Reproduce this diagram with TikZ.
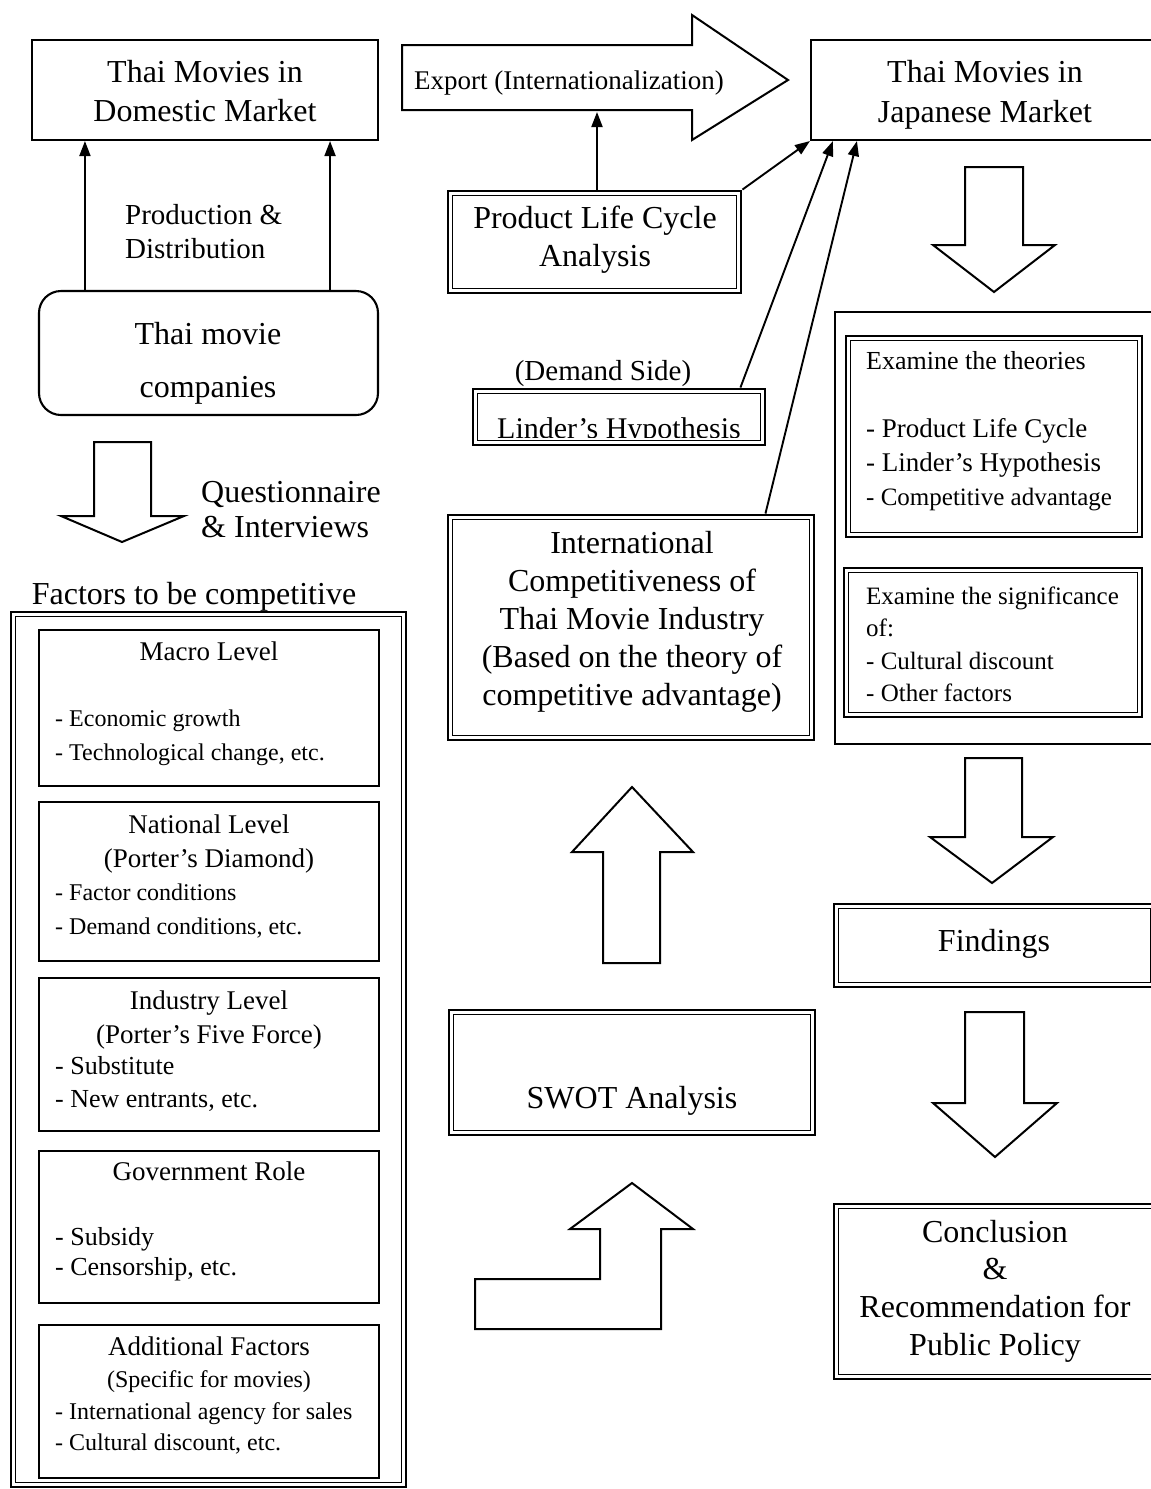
\documentclass[tikz,border=0pt]{standalone}
\usepackage{fontspec}
\setmainfont{Liberation Serif}
\usetikzlibrary{arrows.meta}
\begin{document}
\begin{tikzpicture}[x=1pt,y=-1pt,
  sbox/.style={draw, line width=2.1pt, inner sep=0pt},
  dbox/.style={draw, line width=2.9pt, inner sep=0pt,
    path picture={\draw[line width=1.3pt]
      ([shift={(4.7pt,-4.7pt)}]path picture bounding box.north west) rectangle
      ([shift={(-4.7pt,4.7pt)}]path picture bounding box.south east);}},
  harrow/.style={draw, line width=2pt, line join=miter, fill=white},
  arr/.style={line width=1.9pt, -{Triangle[length=15pt,width=11pt]}},
  txt/.style={inner sep=0pt, align=center, yshift=-3.5pt},
  ltxt/.style={inner sep=0pt, align=left, anchor=west, yshift=-3.5pt},
  fs/.style 2 args={font=\fontsize{#1}{#2}\selectfont},
]
\fill[white] (0,0) rectangle (1151,1489);
\useasboundingbox (0,0) rectangle (1151,1489);

% ---------------- left column ----------------
\node[sbox, minimum width=346pt, minimum height=100pt] (dom) at (205,90) {};
\node[txt, fs={32}{39}] (domtxt) at (205,88) {Thai Movies in\\Domestic Market};
\node[sbox, rounded corners=22pt, minimum width=339pt, minimum height=124pt] (comp) at (208.5,353) {};
\node[txt, fs={32}{53}] (comptxt) at (208,359.5) {Thai movie\\companies};
\path ([xshift=47pt]comp.north west) coordinate (ca) ([xshift=-49pt]comp.north east) coordinate (cb);
\draw[arr] (ca) -- (ca |- dom.south);
\draw[arr] (cb) -- (cb |- dom.south);
\node[ltxt, fs={29}{34}] (prod) at (125,228) {Production \&\\Distribution};

\draw[harrow] (94,442) -- (151,442) -- (151,516) -- (184,516) -- (122,542) -- (61,516) -- (94,516) -- cycle;
\node[ltxt, fs={32}{35}] (quest) at (201,506) {Questionnaire\\\& Interviews};
\node[txt, fs={32}{38}] (factlbl) at (194,593) {Factors to be competitive};

\node[dbox, minimum width=395pt, minimum height=875pt] (fact) at (208.5,1049.5) {};

\node[sbox, minimum width=340pt, minimum height=156pt] (macro) at (209,708) {};
\node[txt, fs={27}{34}] (macroh) at (209,648) {Macro Level};
\node[ltxt, fs={24}{34}] (macrob) at (55,734) {- Economic growth\\- Technological change, etc.};

\node[sbox, minimum width=340pt, minimum height=159pt] (nat) at (209,881.5) {};
\node[txt, fs={27}{34}] (nath) at (209,840) {National Level\\(Porter’s Diamond)};
\node[ltxt, fs={24}{34}] (natb) at (55,908) {- Factor conditions\\- Demand conditions, etc.};

\node[sbox, minimum width=340pt, minimum height=153pt] (ind) at (209,1054.5) {};
\node[txt, fs={27}{34}] (indh) at (209,1016) {Industry Level\\(Porter’s Five Force)};
\node[ltxt, fs={26}{33}] (indb) at (55,1080.5) {- Substitute\\- New entrants, etc.};

\node[sbox, minimum width=340pt, minimum height=152pt] (gov) at (209,1227) {};
\node[txt, fs={27}{34}] (govh) at (209,1168) {Government Role};
\node[ltxt, fs={26}{30}] (govb) at (55,1251) {- Subsidy\\- Censorship, etc.};

\node[sbox, minimum width=340pt, minimum height=153pt] (add) at (209,1401.5) {};
\node[txt, fs={27}{34}] (addh) at (209,1343) {Additional Factors};
\node[txt, fs={24}{34}] (adds) at (209,1378) {(Specific for movies)};
\node[ltxt, fs={24}{31}] (addb) at (55,1425) {- International agency for sales\\- Cultural discount, etc.};

% ---------------- middle column ----------------
\draw[harrow] (402,45) -- (692,45) -- (692,15) -- (788,80) -- (692,140) -- (692,110) -- (402,110) -- cycle;
\node[txt, fs={27}{30}] (export) at (569,80) {Export (Internationalization)};
\coordinate (expb) at (597,112);

\node[dbox, minimum width=293pt, minimum height=102pt] (plc) at (594.5,242) {};
\node[txt, fs={32}{38}] (plctxt) at (595,236) {Product Life Cycle\\Analysis};
\draw[arr] ([xshift=2.5pt]plc.north) -- (expb);

\node[txt, fs={29}{34}] (demand) at (603,370) {(Demand Side)};
\node[dbox, minimum width=292pt, minimum height=56pt] (linder) at (619,417) {};
\begin{scope}
  \clip (472,390) rectangle (766,437);
  \node[inner sep=0pt, anchor=base, fs={30}{34}] (lindertxt) at (619,438) {Linder’s Hypothesis};
\end{scope}

\node[dbox, minimum width=366pt, minimum height=225pt] (ic) at (631,627.5) {};
\node[txt, fs={32}{38}] (ictxt) at (632,618) {International\\Competitiveness of\\Thai Movie Industry\\(Based on the theory of\\competitive advantage)};

\draw[harrow] (603,963) -- (603,852) -- (572,852) -- (632,787) -- (693,852) -- (660,852) -- (660,963) -- cycle;

\node[dbox, minimum width=366pt, minimum height=125pt] (swot) at (632,1072.5) {};
\node[txt, fs={32}{38}] (swottxt) at (632,1097) {SWOT Analysis};

\draw[harrow] (475,1329) -- (661,1329) -- (661,1229) -- (693,1229) -- (632,1183) -- (570,1229) -- (600,1229) -- (600,1279) -- (475,1279) -- cycle;

% ---------------- right column ----------------
\node[sbox, minimum width=348pt, minimum height=100pt] (jap) at (985,90) {};
\node[txt, fs={32}{40}] (japtxt) at (985,91) {Thai Movies in\\Japanese Market};
\draw[arr] (plc.north east) -- (jap.south west);
\draw[arr] ([xshift=-26pt]linder.north east) -- ([xshift=23pt]jap.south west);
\draw[arr] ([xshift=-50pt]ic.north east) -- ([xshift=47pt]jap.south west);

\draw[harrow] (965,167) -- (1023,167) -- (1023,245) -- (1055,245) -- (994,292) -- (933,245) -- (965,245) -- cycle;

\node[sbox, minimum width=317pt, minimum height=432pt] (exam) at (993.5,528) {};
\node[dbox, minimum width=296pt, minimum height=201pt] (exth) at (994,436.5) {};
\node[ltxt, fs={26}{34}] (exthh) at (866,357) {Examine the theories};
\node[ltxt, fs={27}{34}] (exthb) at (866,461.5) {- Product Life Cycle\\- Linder’s Hypothesis\\{\fontsize{25}{34}\selectfont - Competitive advantage}};

\node[dbox, minimum width=298pt, minimum height=149pt] (exsig) at (993,642.5) {};
\node[ltxt, fs={25}{32.5}] (exsigt) at (866,641) {Examine the significance\\of:\\- Cultural discount\\- Other factors};

\draw[harrow] (965,758) -- (1022,758) -- (1022,837) -- (1053,837) -- (992,883) -- (930,837) -- (965,837) -- cycle;

\node[dbox, minimum width=321pt, minimum height=83pt] (find) at (994.5,945.5) {};
\node[txt, fs={32}{38}] (findtxt) at (994,940) {Findings};

\draw[harrow] (965,1012) -- (1024,1012) -- (1024,1103) -- (1057,1103) -- (995,1157) -- (933,1103) -- (965,1103) -- cycle;

\node[dbox, minimum width=322pt, minimum height=175pt] (concl) at (995,1291.5) {};
\node[txt, fs={32}{37.7}] (concltxt) at (995,1287.5) {Conclusion\\\&\\Recommendation for\\Public Policy};
\end{tikzpicture}
\end{document}
